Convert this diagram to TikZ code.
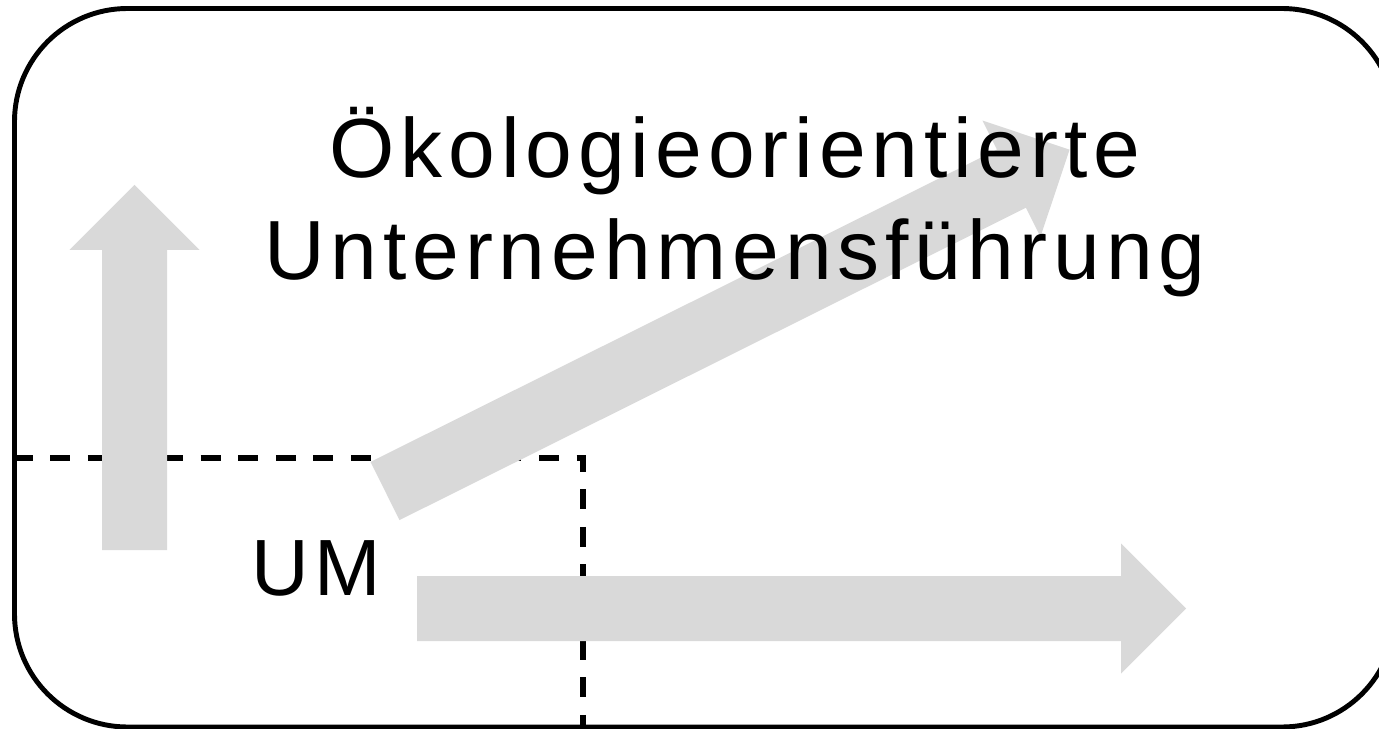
\documentclass[tikz,border=0pt]{standalone}
\usepackage{fontspec}
\setmainfont{Liberation Sans}[LetterSpace=7]

\definecolor{arrowgray}{HTML}{D9D9D9}

\begin{document}
\begin{tikzpicture}[x=0.02cm, y=-0.02cm,
    frame/.style={line width=2.8pt, rounded corners=2.26cm},
    divider/.style={line width=2.9pt, dash pattern=on 11.4pt off 10pt, dash phase=14.2pt},
    blockarrow/.style={fill=arrowgray},
    heading/.style={font=\fontsize{47.8}{57}\selectfont, anchor=base},
    tag/.style={font=\fontsize{45.4}{54}\selectfont, anchor=base}]

    % Page area, everything outside is cut away
    \useasboundingbox (0,0) rectangle (1379,729);
    \clip (0,0) rectangle (1379,729);

    % Outer frame (runs off the right edge)
    \draw[frame] (14.5,8.5) rectangle (1395,727);

    % Dashed corner around the UM field
    \coordinate (CornerLeft) at (0,458);
    \coordinate (Corner) at (583,458);
    \coordinate (CornerBottom) at (583,729);
    \draw[divider] (CornerLeft) -- (Corner) -- (CornerBottom);

    % Block arrows: tail x / tail y / angle / length
    \foreach \tx/\ty/\ang/\len in {134.5/550/90/365, 385/491/26.5/765, 417/608.5/0/769} {
        \fill[blockarrow, shift={(\tx,\ty)}, rotate=\ang]
            (0,-32.5) -- (\len-65,-32.5) -- (\len-65,-65) -- (\len,0)
            -- (\len-65,65) -- (\len-65,32.5) -- (0,32.5) -- cycle;
    }

    % Labels
    \node[heading] (HeadTop) at (735,178) {Ökologieorientierte};
    \node[heading] (HeadBottom) at (735,280) {Unternehmensführung};
    \node[tag] (UM) at (316,595) {UM};

\end{tikzpicture}
\end{document}
